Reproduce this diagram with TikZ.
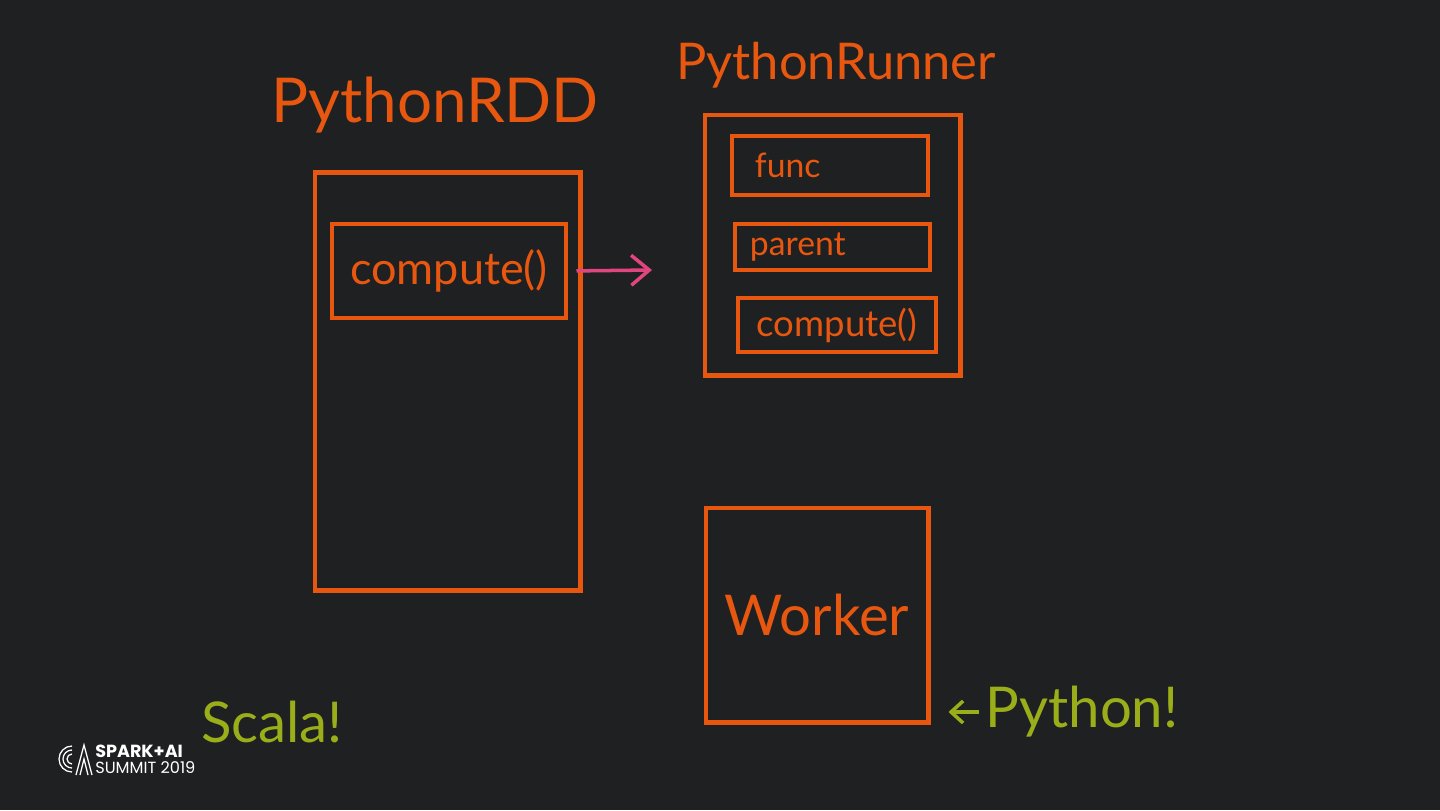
\documentclass[tikz,border=0pt]{standalone}
\usepackage{fontspec}
\setmainfont{Lato}
\newfontfamily\logofont{Poppins}
\usetikzlibrary{arrows.meta}
\definecolor{board}{HTML}{1F2021}
\definecolor{chalk}{HTML}{E8570F}
\definecolor{marker}{HTML}{E0457F}
\definecolor{lime}{HTML}{9AAE1A}
\tikzset{
  box/.style={draw=chalk,line width=3.5pt,rectangle,inner sep=0,text=chalk},
  hand/.style={text=chalk},
  green/.style={text=lime},
  logo/.style={white,line width=0.9pt},
}
\begin{document}
\begin{tikzpicture}[x=0.025cm,y=-0.025cm,>={Straight Barb[length=0.45cm,width=0.75cm]}]
  \fill[board] (0,0) rectangle (1440,810);

  \node (rddname) at (435,105) [hand,font=\fontsize{44}{48}\selectfont]{PythonRDD};
  \node (rdd) at (447.5,381.5) [box,minimum width=6.625cm,minimum height=10.425cm]{};
  \node (cmp) at (449,271) [box,minimum width=5.85cm,minimum height=2.35cm,font=\fontsize{32}{36}\selectfont]{compute()};
  \coordinate (tip) at (652,270);

  \node (runname) at (836,65) [hand,font=\fontsize{36}{40}\selectfont]{PythonRunner};
  \node (run) at (832.5,245) [box,minimum width=6.375cm,minimum height=6.5cm]{};
  \node (func) at (830,165.5) [box,minimum width=4.9cm,minimum height=1.475cm,text width=3.75cm,align=left,font=\fontsize{24}{28}\selectfont]{func};
  \node (parent) at (832.5,247) [box,minimum width=4.875cm,minimum height=1.15cm,text width=4.125cm,align=left,font=\fontsize{24}{28}\selectfont]{parent};
  \node (cmp2) at (837,325) [box,minimum width=4.95cm,minimum height=1.35cm,font=\fontsize{26}{30}\selectfont]{compute()};

  \node (wrk) at (817,615) [box,minimum width=5.55cm,minimum height=5.35cm,font=\fontsize{40}{44}\selectfont]{Worker};

  \node (py) at (1082,712) [green,font=\fontsize{40}{44}\selectfont]{Python!};
  \node (sc) at (272,722) [green,font=\fontsize{40}{44}\selectfont]{Scala!};

  \draw[->,marker,line width=2.5pt,shorten <=0.2cm] (cmp.east) -- (tip);
  \draw[-{Straight Barb[length=0.3cm,width=0.55cm]},lime,line width=2.5pt,shorten <=0.05cm,shorten >=0.45cm] (py.west) -- (wrk.east |- py.west);

  \node (spark) at (95,751) [anchor=west,text=white,inner sep=0,font=\logofont\bfseries\fontsize{12.5}{14}\selectfont]{SPARK+AI};
  \node (summit) at (95,768) [anchor=west,text=white,inner sep=0,font=\logofont\fontsize{11.5}{13}\selectfont]{SUMMIT 2019};
  \foreach \r in {5,9,13}
    \draw[logo] (72,759) ++(90:\r) arc (90:270:\r);
  \draw[logo] (76,775) -- (84,745) -- (92,775);
  \draw[logo] (80,775) -- (84,759) -- (88,775);
\end{tikzpicture}
\end{document}
